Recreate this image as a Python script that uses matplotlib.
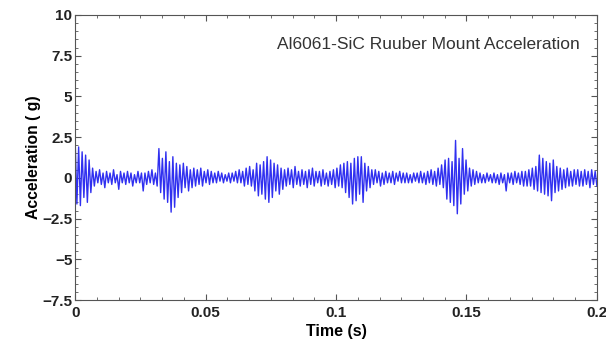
import numpy as np
import matplotlib.pyplot as plt
from matplotlib.ticker import AutoMinorLocator

# acceleration samples (g), evenly spaced over 0 - 0.2 s
accel = [
    2.3, -1.6, 1.9, -1.7, 1.6, -1.2, 1.4, -1.5, 1.1, -0.9,
    0.6, -0.5, 0.4, -0.3, 0.5, -0.4, 0.3, -0.6, 0.4, -0.3,
    0.3, -0.4, 0.5, -0.3, 0.2, -0.7, 0.4, -0.3, 0.3, -0.4,
    0.4, -0.3, 0.3, -0.5, 0.2, -0.3, 0.4, -0.3, 0.3, -0.8,
    0.3, -0.4, 0.4, -0.3, 0.5, -0.4, 0.3, -0.5, 1.8, -0.9,
    1.2, -1.3, 1.6, -1.5, 1.0, -2.1, 1.3, -1.8, 0.9, -1.2,
    0.8, -0.9, 0.9, -0.6, 0.7, -0.8, 0.5, -0.6, 0.6, -0.5,
    0.5, -0.4, 0.6, -0.5, 0.4, -0.3, 0.5, -0.4, 0.4, -0.3,
    0.3, -0.3, 0.4, -0.2, 0.3, -0.3, 0.2, -0.2, 0.3, -0.3,
    0.3, -0.2, 0.4, -0.3, 0.5, -0.3, 0.4, -0.5, 0.6, -0.4,
    0.7, -0.5, 0.5, -0.8, 0.9, -1.1, 0.8, -1.0, 1.0, -1.3,
    1.3, -1.5, 1.1, -1.2, 0.9, -0.8, 0.8, -1.0, 0.6, -0.7,
    0.5, -0.5, 0.6, -0.4, 0.5, -0.6, 0.7, -0.4, 0.4, -0.5,
    0.5, -0.4, 0.4, -0.6, 0.5, -0.4, 0.6, -0.5, 0.4, -0.3,
    0.4, -0.5, 0.5, -0.4, 0.3, -0.5, 0.4, -0.4, 0.5, -0.6,
    0.6, -0.5, 0.8, -0.6, 0.9, -0.9, 1.0, -1.2, 0.9, -1.6,
    1.2, -1.4, 1.3, -1.0, 1.3, -1.5, 0.9, -0.8, 0.7, -0.6,
    0.5, -0.4, 0.5, -0.3, 0.4, -0.5, 0.3, -0.4, 0.4, -0.3,
    0.3, -0.3, 0.4, -0.4, 0.3, -0.2, 0.4, -0.3, 0.3, -0.3,
    0.3, -0.3, 0.2, -0.3, 0.3, -0.2, 0.3, -0.3, 0.4, -0.3,
    0.3, -0.4, 0.4, -0.3, 0.5, -0.4, 0.4, -0.5, 0.6, -0.4,
    0.8, -0.6, 1.1, -1.3, 1.2, -1.5, 1.0, -1.7, 2.3, -2.2,
    1.2, -1.6, 1.8, -1.0, 1.1, -0.8, 0.6, -0.5, 0.5, -0.4,
    0.4, -0.3, 0.3, -0.3, 0.2, -0.3, 0.3, -0.2, 0.2, -0.3,
    0.3, -0.3, 0.2, -0.4, 0.3, -0.3, 0.2, -0.8, 0.3, -0.3,
    0.3, -0.4, 0.4, -0.3, 0.3, -0.4, 0.4, -0.5, 0.4, -0.5,
    0.5, -0.5, 0.6, -0.7, 0.7, -0.8, 1.4, -0.9, 1.2, -1.0,
    1.0, -1.1, 0.9, -1.4, 1.1, -0.9, 0.7, -0.8, 0.6, -0.7,
    0.5, -0.6, 0.6, -0.5, 0.4, -0.5, 0.5, -0.4, 0.5, -0.5,
    0.4, -0.5, 0.5, -0.4, 0.4, -0.6, 0.5, -0.4, 0.4, -0.5,
]
t_start, t_end = 0.0, 0.2
x_ticks = [0, 0.05, 0.1, 0.15, 0.2]
x_ticklabels = ['0', '0.05', '0.1', '0.15', '0.2']
y_ticks = [-7.5, -5, -2.5, 0, 2.5, 5, 7.5, 10]
y_ticklabels = ['\u22127.5', '\u22125', '\u22122.5', '0', '2.5', '5', '7.5', '10']

plt.rcParams['font.family'] = ['Liberation Sans', 'DejaVu Sans']

time = np.linspace(t_start, t_end, len(accel))

fig = plt.figure(figsize=(6.06, 3.47), dpi=100)
ax = fig.add_axes([0.124, 0.135, 0.861, 0.822])
ax.plot(time, accel, color='#3030f0', linewidth=1.0)

ax.set_xlim(t_start, t_end)
ax.set_ylim(-7.5, 10)
ax.set_xticks(x_ticks)
ax.set_xticklabels(x_ticklabels, fontweight='bold', fontsize=11)
ax.set_yticks(y_ticks)
ax.set_yticklabels(y_ticklabels, fontweight='bold', fontsize=11)
ax.xaxis.set_minor_locator(AutoMinorLocator(6))
ax.yaxis.set_minor_locator(AutoMinorLocator(5))
ax.tick_params(which='both', direction='in', top=True, right=True, colors='#555555',
               labelcolor='#222222')
ax.tick_params(which='major', length=4)
ax.tick_params(which='minor', length=2)
ax.tick_params(axis='x', pad=4)
ax.tick_params(axis='y', pad=2)
for s in ax.spines.values():
    s.set_color('#555555')

ax.set_xlabel('Time (s)', fontweight='bold', fontsize=11.5, labelpad=3)
ax.set_ylabel('Acceleration ( g)', fontweight='bold', fontsize=11.3, labelpad=1)
ax.text(0.967, 0.895, 'Al6061-SiC Ruuber Mount Acceleration', transform=ax.transAxes,
        ha='right', va='center', fontsize=12.5, color='#333333')

fig.savefig('out.png', dpi=100)
plt.close(fig)
